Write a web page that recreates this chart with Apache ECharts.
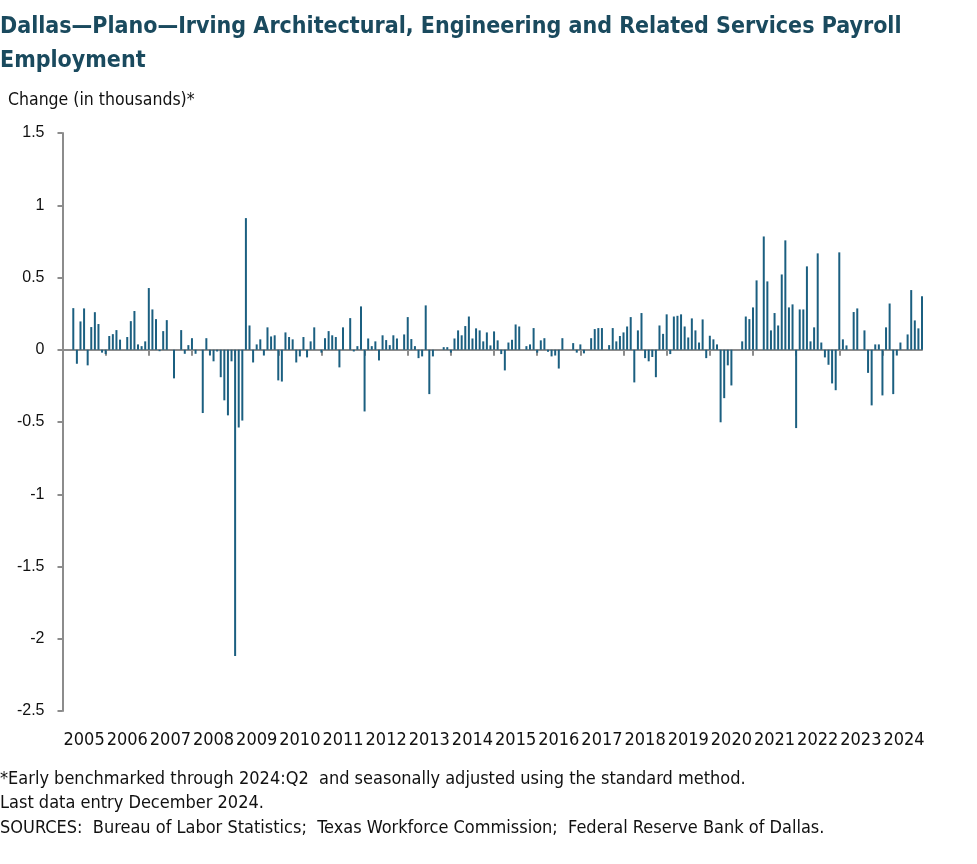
<!DOCTYPE html>
<html><head><meta charset="utf-8">
<script src="https://cdn.jsdelivr.net/npm/echarts@6/dist/echarts.min.js"></script>
<style>html,body{margin:0;padding:0;background:#fff}#c{width:977px;height:864px}</style>
</head><body><div id="c"></div>
<script>
// Year tick labels
const years = ['2005','2006','2007','2008','2009','2010','2011','2012','2013','2014',
               '2015','2016','2017','2018','2019','2020','2021','2022','2023','2024'];
const monthNames = ['Jan','Feb','Mar','Apr','May','Jun','Jul','Aug','Sep','Oct','Nov','Dec'];

// Monthly change (thousands), Jan..Dec
const v2005 = [null, 0, 0, 0.288, -0.097, 0.196, 0.286, -0.108, 0.157, 0.26, 0.178, -0.02];
const v2006 = [-0.03, 0.095, 0.108, 0.136, 0.07, 0, 0.088, 0.198, 0.268, 0.037, 0.025, 0.058];
const v2007 = [0.427, 0.279, 0.212, -0.01, 0.129, 0.205, 0, -0.198, 0, 0.136, -0.028, 0.032];
const v2008 = [0.08, -0.028, 0, -0.438, 0.08, -0.04, -0.08, -0.012, -0.19, -0.35, -0.454, -0.08];
const v2009 = [-2.12, -0.538, -0.49, 0.911, 0.168, -0.088, 0.037, 0.072, -0.04, 0.155, 0.092, 0.1];
const v2010 = [-0.212, -0.22, 0.12, 0.088, 0.072, -0.088, -0.046, 0.088, -0.053, 0.058, 0.155, 0];
const v2011 = [-0.02, 0.08, 0.129, 0.1, 0.088, -0.122, 0.155, 0, 0.219, -0.012, 0.025, 0.3];
const v2012 = [-0.427, 0.078, 0.025, 0.058, -0.074, 0.1, 0.067, 0.032, 0.1, 0.078, 0, 0.106];
const v2013 = [0.226, 0.074, 0.025, -0.058, -0.046, 0.307, -0.307, -0.046, 0, 0, 0.018, 0.018];
const v2014 = [-0.02, 0.078, 0.134, 0.1, 0.164, 0.23, 0.078, 0.148, 0.134, 0.058, 0.12, 0.03];
const v2015 = [0.127, 0.065, -0.03, -0.143, 0.05, 0.069, 0.175, 0.161, 0, 0.025, 0.037, 0.15];
const v2016 = [-0.02, 0.065, 0.08, -0.014, -0.046, -0.04, -0.13, 0.08, 0, 0, 0.046, -0.02];
const v2017 = [0.037, -0.025, 0, 0.08, 0.143, 0.15, 0.15, 0, 0.032, 0.15, 0.058, 0.095];
const v2018 = [0.12, 0.161, 0.226, -0.226, 0.134, 0.254, -0.058, -0.08, -0.05, -0.19, 0.168, 0.11];
const v2019 = [0.245, -0.03, 0.23, 0.235, 0.245, 0.161, 0.085, 0.217, 0.134, 0.05, 0.21, -0.058];
const v2020 = [0.097, 0.072, 0.037, -0.502, -0.335, -0.108, -0.247, 0, 0, 0.058, 0.23, 0.212];
const v2021 = [0.293, 0.48, 0, 0.784, 0.473, 0.134, 0.254, 0.168, 0.521, 0.757, 0.293, 0.314];
const v2022 = [-0.542, 0.279, 0.279, 0.577, 0.058, 0.155, 0.667, 0.05, -0.053, -0.104, -0.233, -0.28];
const v2023 = [0.674, 0.072, 0.03, 0, 0.261, 0.286, 0, 0.134, -0.16, -0.385, 0.037, 0.037];
const v2024 = [-0.316, 0.155, 0.32, -0.307, -0.04, 0.05, 0, 0.106, 0.413, 0.203, 0.148, 0.37];

const yearly = [v2005,v2006,v2007,v2008,v2009,v2010,v2011,v2012,v2013,v2014,
                v2015,v2016,v2017,v2018,v2019,v2020,v2021,v2022,v2023,v2024];
const categories = [];
years.forEach(y => monthNames.forEach(m => categories.push(m + ' ' + y)));
const values = [].concat(...yearly);

const titleText = 'Dallas\u2014Plano\u2014Irving Architectural, Engineering and Related Services Payroll\nEmployment';
const yTitle = 'Change (in thousands)*';
const notes = '*Early benchmarked through 2024:Q2  and seasonally adjusted using the standard method.\nLast data entry December 2024.\nSOURCES:  Bureau of Labor Statistics;  Texas Workforce Commission;  Federal Reserve Bank of Dallas.';

const narrow = "'Liberation Sans Narrow','Arial Narrow','DejaVu Sans Condensed','Liberation Sans',sans-serif";
const axisGray = '#8c8c8c';

const chart = echarts.init(document.getElementById('c'));
chart.setOption({
  animation: false,
  backgroundColor: '#fff',
  title: [
    { text: titleText, left: 0, top: 10, padding: 0,
      textStyle: { fontFamily: narrow, fontWeight: 'bold', fontSize: 23, color: '#1a4a5e', lineHeight: 34 } },
    { text: yTitle, left: 8, top: 91, padding: 0,
      textStyle: { fontFamily: narrow, fontWeight: 'normal', fontSize: 17.5, color: '#111' } },
    { text: notes, left: 0, top: 767, padding: 0,
      textStyle: { fontFamily: narrow, fontWeight: 'normal', fontSize: 18, color: '#111', lineHeight: 24.5 } }
  ],
  grid: { left: 62.5, right: 55, top: 133, bottom: 153, containLabel: false },
  xAxis: [
    { type: 'category', data: categories, boundaryGap: false,
      axisLine: { onZero: true, lineStyle: { color: axisGray, width: 2 } },
      axisTick: { show: true, interval: (i) => i % 12 === 0, length: 6, lineStyle: { color: axisGray, width: 2 } },
      axisLabel: { show: false }, splitLine: { show: false } },
    { type: 'category', data: categories, boundaryGap: false, position: 'bottom',
      axisLine: { show: false, onZero: false }, axisTick: { show: false },
      axisLabel: { show: true, interval: (i) => i % 12 === 6, formatter: (v) => v.split(' ')[1],
        fontFamily: narrow, fontSize: 18, color: '#111', margin: 20 },
      splitLine: { show: false } }
  ],
  yAxis: {
    type: 'value', min: -2.5, max: 1.5, interval: 0.5,
    axisLine: { show: true, lineStyle: { color: axisGray, width: 2 } },
    axisTick: { show: true, length: 5, lineStyle: { color: axisGray, width: 2 } },
    axisLabel: { fontFamily: "'Liberation Sans',sans-serif", fontSize: 16, color: '#111', margin: 18 },
    splitLine: { show: false }
  },
  series: [{
    type: 'bar', xAxisIndex: 0, data: values, barWidth: 2,
    itemStyle: { color: '#1b5f80' }
  }]
});
</script></body></html>
